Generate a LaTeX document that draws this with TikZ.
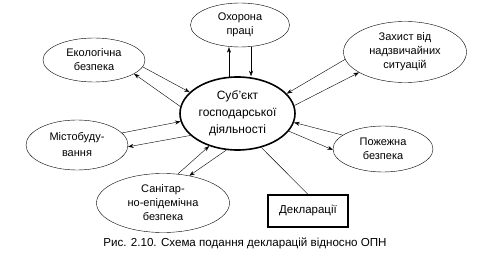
\documentclass[tikz,border=0pt]{standalone}
\usepackage{fontspec}
\setmainfont{Liberation Sans}
\usetikzlibrary{shapes.geometric,arrows.meta}

\begin{document}
\begin{tikzpicture}[x=1pt,y=-1pt,
    oval/.style={draw, ellipse, thin, inner sep=0pt, align=center, font=\fontsize{11}{14}\selectfont},
    link/.style={-{Stealth[length=5.5pt,width=4pt]}, thin}]
        \useasboundingbox (0,0) rectangle (490,259);

        % Subject in the middle
        \node[oval, line width=1.6pt, minimum width=115, minimum height=73, font=\fontsize{12}{17}\selectfont] (subj) at (237.5,113.5) {Суб’єкт\\господарської\\діяльності};

        % Surrounding fields
        \node[oval, minimum width=99, minimum height=44] (oh) at (240,25) {Охорона\\праці};
        \node[oval, minimum width=102, minimum height=44] (eco) at (94,60) {Екологічна\\безпека};
        \node[oval, minimum width=123, minimum height=61] (zah) at (405,52) {Захист від\\надзвичайних\\ситуацій};
        \node[oval, minimum width=102, minimum height=50, font=\fontsize{11}{16}\selectfont] (mis) at (77,145) {Містобуду-\\вання};
        \node[oval, minimum width=133, minimum height=59] (san) at (163,203) {Санітар-\\но-епідемічна\\безпека};
        \node[oval, minimum width=100, minimum height=46] (poz) at (383,149) {Пожежна\\безпека};

        % Declarations box
        \node[draw, line width=1.3pt, minimum width=80, minimum height=32, font=\fontsize{11.5}{14}\selectfont] (decl) at (308,211) {Декларації};

        \node[font=\fontsize{11.6}{14}\selectfont] (cap) at (245,243) {Рис. 2.10. Схема подання декларацій відносно ОПН};

        % Pairs of arrows
        \draw[link] (eco.-8) -- (subj.156);
        \draw[link] (subj.173) -- (eco.-19);
        \draw[link] (subj.103) -- (subj.103 |- oh.south);
        \draw[link] (oh.-63) -- (oh.-63 |- subj.north);
        \draw[link] (zah.187) -- (subj.22);
        \draw[link] (subj.8) -- (zah.204);
        \draw[link] (poz.161) -- (subj.-9);
        \draw[link] (subj.-19) -- (poz.181);
        \draw[link] (mis.15) -- (subj.188);
        \draw[link] (subj.205) -- (mis.-2);
        \draw[link] (san.63) -- (subj.229);
        \draw[link] (subj.253) -- (san.46);

        % Plain line to the box
        \draw (subj.-55) -- (decl.north);

    \end{tikzpicture}
\end{document}
